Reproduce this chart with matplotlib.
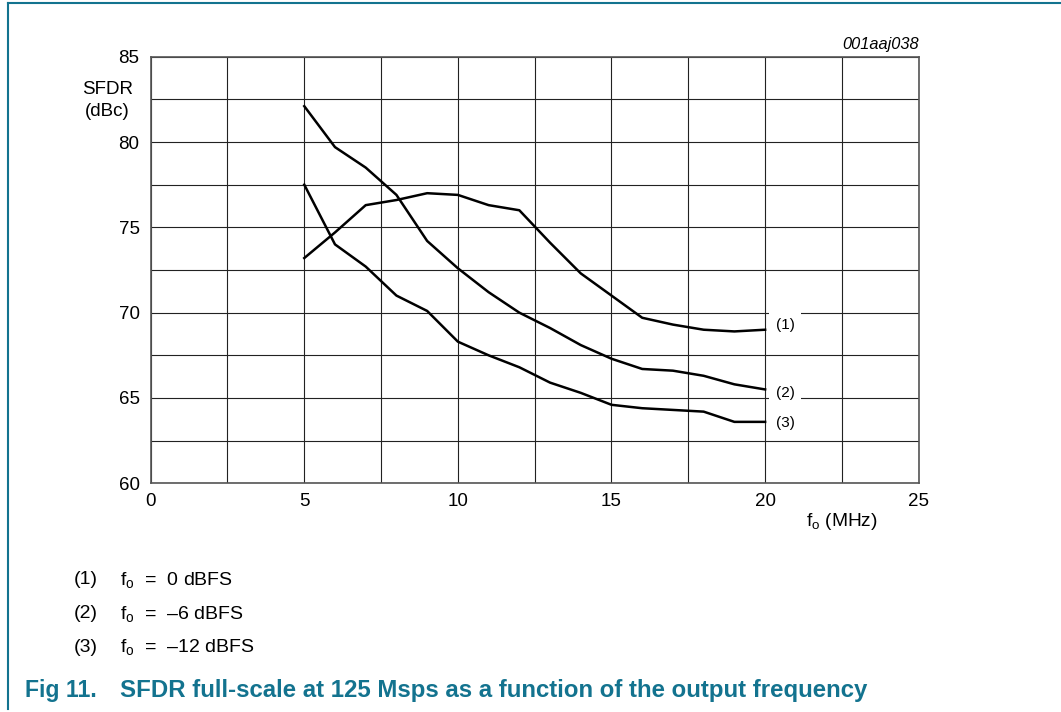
import numpy as np
import matplotlib
matplotlib.use('Agg')
from matplotlib import pyplot as plt
from matplotlib.lines import Line2D

plt.rcParams['font.family'] = ['Liberation Sans', 'DejaVu Sans']
plt.rcParams['mathtext.fontset'] = 'custom'
plt.rcParams['mathtext.rm'] = 'Liberation Sans'
plt.rcParams['mathtext.it'] = 'Liberation Sans:italic'

# ------------------------------------------------------------
# SFDR (dBc), f_o = 5 ... 20 MHz
f_out = np.arange(5, 21)
sfdr_0dbfs = [73.2, 74.7, 76.3, 76.6, 77.0, 76.9, 76.3, 76.0,
              74.1, 72.3, 71.0, 69.7, 69.3, 69.0, 68.9, 69.0]
sfdr_6dbfs = [82.1, 79.7, 78.5, 76.9, 74.2, 72.6, 71.2, 70.0,
              69.1, 68.1, 67.3, 66.7, 66.6, 66.3, 65.8, 65.5]
sfdr_12dbfs = [77.5, 74.0, 72.7, 71.0, 70.1, 68.3, 67.5, 66.8,
               65.9, 65.3, 64.6, 64.4, 64.3, 64.2, 63.6, 63.6]
curve_tags = ['(1)', '(2)', '(3)']
tag_levels = [69.3, 65.3, 63.55]
note_texts = ['f$_\\mathrm{o}$  =  0 dBFS',
              'f$_\\mathrm{o}$  =  \u20136 dBFS',
              'f$_\\mathrm{o}$  =  \u201312 dBFS']

teal = '#13738f'

fig = plt.figure(figsize=(10.61, 7.12), dpi=100)
ax = fig.add_axes([0.1420, 0.3212, 0.7239, 0.5992])

for y in (sfdr_0dbfs, sfdr_6dbfs, sfdr_12dbfs):
    ax.plot(f_out, y, color='black', lw=1.8, zorder=3, solid_joinstyle='round')

for tag, lvl in zip(curve_tags, tag_levels):
    ax.text(20.65, lvl, tag, fontsize=11, ha='center', va='center', zorder=2,
            bbox=dict(fc='white', ec='none', pad=5))

ax.set_xlim(0, 25)
ax.set_ylim(60, 85)
ax.set_xticks(np.arange(0, 26, 5))
ax.set_yticks(np.arange(60, 86, 5))
ax.set_xticks(np.arange(0, 25.1, 2.5), minor=True)
ax.set_yticks(np.arange(60, 85.1, 2.5), minor=True)
ax.grid(which='both', color='#222222', lw=0.8)
ax.set_axisbelow(True)
ax.tick_params(which='both', length=0, labelsize=13.5)
ax.tick_params(axis='y', pad=8)
ax.tick_params(axis='x', pad=7)
for s in ax.spines.values():
    s.set_color('#555555')
    s.set_linewidth(1.2)

fig.text(107.5 / 1061, 1 - 89 / 712, 'SFDR', fontsize=13.5, ha='center', va='center')
fig.text(107.5 / 1061, 1 - 111.5 / 712, '(dBc)', fontsize=13.5, ha='center', va='center')
fig.text(919 / 1061, 1 - 45 / 712, '001aaj038', fontsize=11.8, style='italic',
         ha='right', va='center')
fig.text(842 / 1061, 1 - 521 / 712, r'f$_\mathrm{o}$ (MHz)', fontsize=13.8,
         ha='center', va='center')

for i, txt in enumerate(note_texts):
    yy = 1 - (580 + 33.5 * i) / 712
    fig.text(74 / 1061, yy, '(%d)' % (i + 1), fontsize=14, va='center')
    fig.text(120 / 1061, yy, txt, fontsize=14, va='center')

fig.text(25 / 1061, 1 - 690 / 712, 'Fig 11.', fontsize=16.6, fontweight='bold',
         color=teal, va='center')
fig.text(120 / 1061, 1 - 690 / 712,
         'SFDR full-scale at 125 Msps as a function of the output frequency',
         fontsize=17.3, fontweight='bold', color=teal, va='center')

# page frame
fig.add_artist(Line2D([8 / 1061, 1], [1 - 3 / 712, 1 - 3 / 712],
                      transform=fig.transFigure, color=teal, lw=1.5))
fig.add_artist(Line2D([8 / 1061, 8 / 1061], [1 - 3 / 712, 1 - 709 / 712],
                      transform=fig.transFigure, color=teal, lw=1.5))

fig.savefig('out.png', dpi=100)
